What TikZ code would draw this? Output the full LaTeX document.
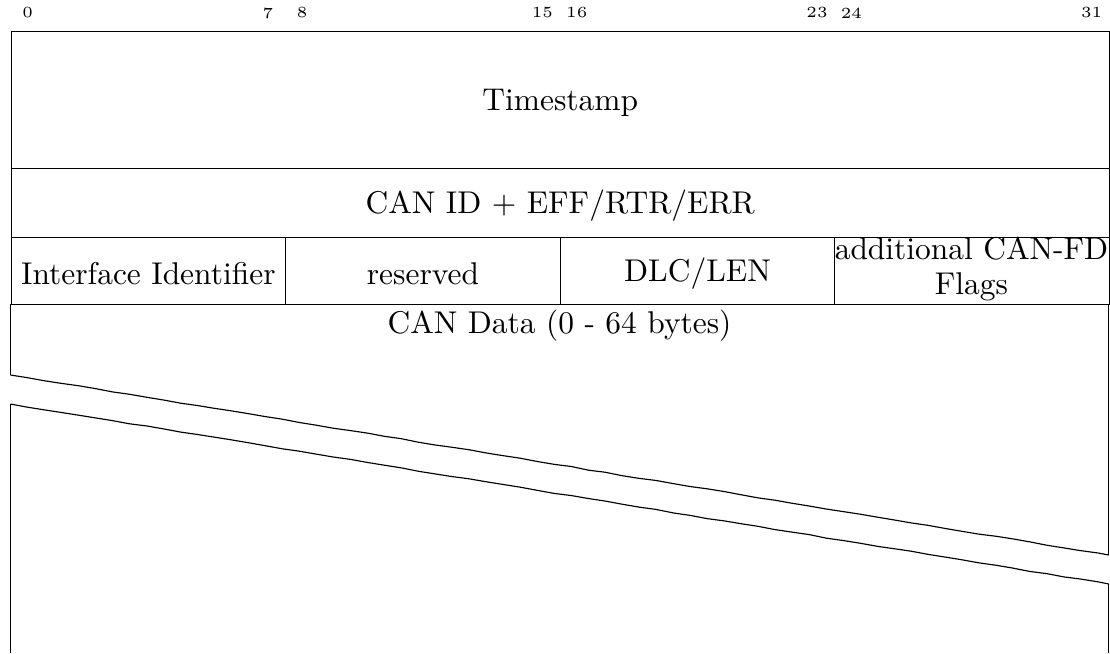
\documentclass[tikz,border=0pt]{standalone}
\usetikzlibrary{decorations.pathmorphing}
\begin{document}
\begin{tikzpicture}[x=0.3485pt,y=-0.3485pt,
  font=\fontsize{10.96}{13.5}\selectfont,
  cell/.style={draw,line width=0.4pt,inner sep=0pt,anchor=north west},
  lbl/.style={yshift=-0.9pt},
  bitlbl/.style={font=\fontsize{5.4}{6}\selectfont,inner sep=0pt,anchor=center},
  wall/.style={line width=0.4pt},
  jag/.style={line width=0.4pt,decorate,decoration={random steps,segment length=6pt,amplitude=0.15pt}}]
\useasboundingbox (0,0) rectangle (1110,653);
\pgfmathsetseed{7}
% bit numbers
\foreach \b in {0,7,8,15,16,23,24,31}{
  \node[bitlbl] (b\b) at ({10.5+(\b+0.5)*34.32},13) {\b};
}
% rows
\node[cell,minimum width=1098.3*0.3485pt,minimum height=137*0.3485pt] (ts) at (10.5,31) {};
\node[lbl] (tstext) at (ts.center) {Timestamp};
\node[cell,minimum width=1098.3*0.3485pt,minimum height=69*0.3485pt] (canid) at (10.5,168) {};
\node[lbl] (canidtext) at (canid.center) {CAN ID + EFF/RTR/ERR};
\node[cell,minimum width=274.575*0.3485pt,minimum height=67*0.3485pt] (iface) at (10.5,237) {};
\node[cell,minimum width=274.575*0.3485pt,minimum height=67*0.3485pt] (res) at (285.075,237) {};
\node[cell,minimum width=274.575*0.3485pt,minimum height=67*0.3485pt] (dlc) at (559.65,237) {};
\node[cell,minimum width=274.575*0.3485pt,minimum height=67*0.3485pt] (flags) at (834.225,237) {};
\node[lbl] (ifacetext) at (iface.center) {Interface Identifier};
\node[lbl] (restext) at (res.center) {reserved};
\node[lbl] (dlctext) at (dlc.center) {DLC/LEN};
\node[text width=274.575*0.3485pt,align=center,inner sep=0pt,anchor=base,
  font=\fontsize{10.96}{12.2}\selectfont] (flagstext) at (971.5,259) {additional CAN-FD\\ Flags};
% data area
\coordinate (dtl) at (10.5,304);
\coordinate (dtr) at (1108.8,304);
\coordinate (b1l) at (10.5,375);
\coordinate (b1r) at (1108.8,555);
\coordinate (b2l) at (10.5,404);
\coordinate (b2r) at (1108.8,584);
\coordinate (dbl) at (10.5,653);
\coordinate (dbr) at (1108.8,653);
\node[lbl] (datatext) at (559.5,323) {CAN Data (0 - 64 bytes)};
\draw[wall] (dtl) -- (b1l);
\draw[jag] (b1l) -- (b1r);
\draw[wall] (b1r) -- (dtr);
\draw[wall] (dbl) -- (b2l);
\draw[jag] (b2l) -- (b2r);
\draw[wall] (b2r) -- (dbr);
\end{tikzpicture}
\end{document}
